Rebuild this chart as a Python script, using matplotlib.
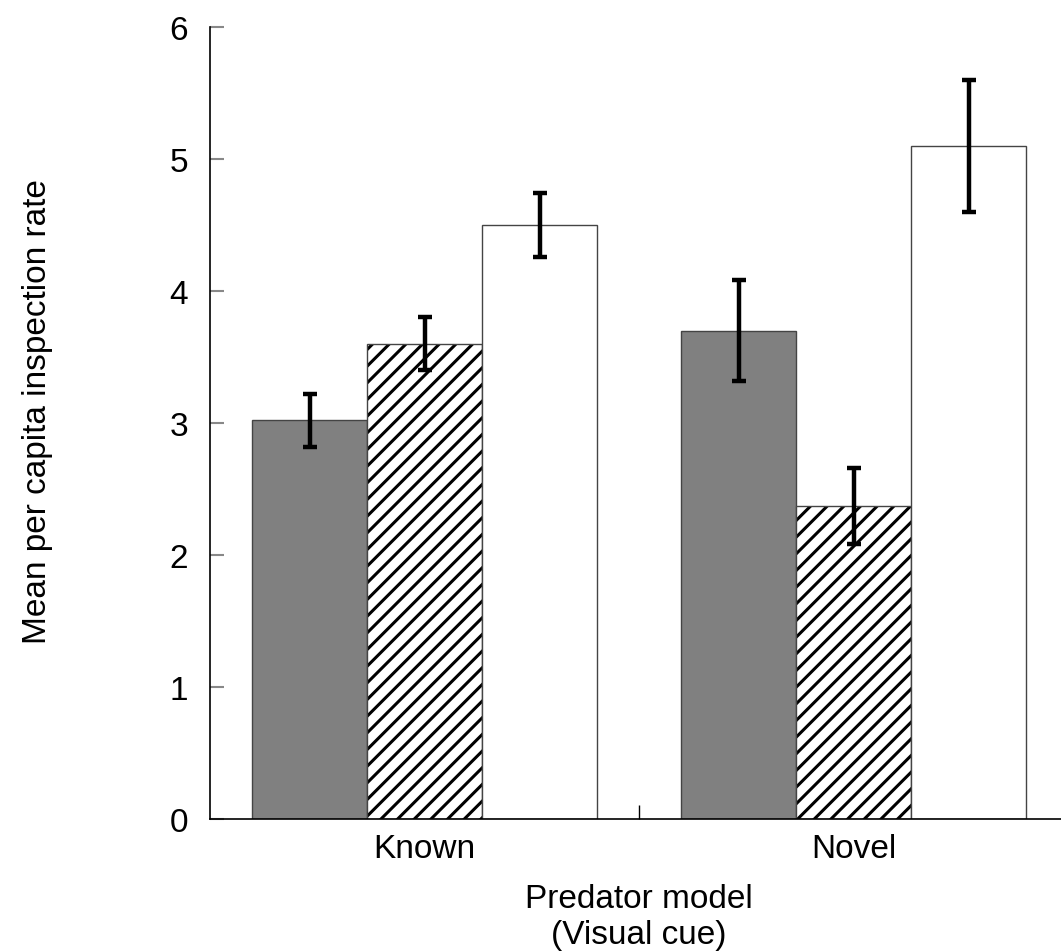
import matplotlib
matplotlib.use('Agg')
import matplotlib.pyplot as plt
import numpy as np

# data
groups = ['Known', 'Novel']
grey_vals = [3.02, 3.70]
grey_err = [0.20, 0.38]
hatch_vals = [3.60, 2.37]
hatch_err = [0.20, 0.29]
white_vals = [4.50, 5.10]
white_err = [0.245, 0.50]

plt.rcParams['font.family'] = ['Liberation Sans', 'DejaVu Sans']
plt.rcParams['hatch.linewidth'] = 2.2

fig = plt.figure(figsize=(10.61, 9.53), dpi=100)
ax = fig.add_axes([0.198, 0.1395, 0.8087, 0.8311])

x = np.arange(len(groups))
w = 0.268
err_kw = dict(ecolor='black', elinewidth=3.2, capsize=5, capthick=3.2)

ax.bar(x - w, grey_vals, w, yerr=grey_err, color='#808080', edgecolor='#444444',
       linewidth=1, error_kw=err_kw)
ax.bar(x, hatch_vals, w, yerr=hatch_err, color='white', edgecolor='black',
       hatch='//', linewidth=0, error_kw=err_kw)
ax.bar(x, hatch_vals, w, color='none', edgecolor='#444444', linewidth=1)
ax.bar(x + w, white_vals, w, yerr=white_err, color='white', edgecolor='#444444',
       linewidth=1, error_kw=err_kw)

ax.set_xlim(-0.5, 1.5)
ax.set_ylim(0, 6)
ax.set_yticks(range(0, 7))
ax.set_xticks(x)
ax.set_xticklabels(groups, fontsize=24)
ax.tick_params(axis='x', length=0, pad=10)
ax.tick_params(axis='y', direction='in', length=10, width=1.5, color='#888888',
               labelsize=24, pad=16)
# small divider tick between the groups
ax.set_xticks([0.5], minor=True)
ax.tick_params(axis='x', which='minor', direction='in', length=10, width=1, color='black')

ax.spines['top'].set_visible(False)
ax.spines['right'].set_visible(False)
ax.spines['left'].set_linewidth(1.2)
ax.spines['bottom'].set_linewidth(1.2)

ax.set_xlabel('Predator model\n(Visual cue)', fontsize=24, linespacing=1.2)
ax.xaxis.set_label_coords(0.5, -0.081)
ax.set_ylabel('Mean per capita inspection rate', fontsize=24)
ax.yaxis.set_label_coords(-0.183, 0.516)

plt.savefig('out.png', dpi=100)
plt.close()
